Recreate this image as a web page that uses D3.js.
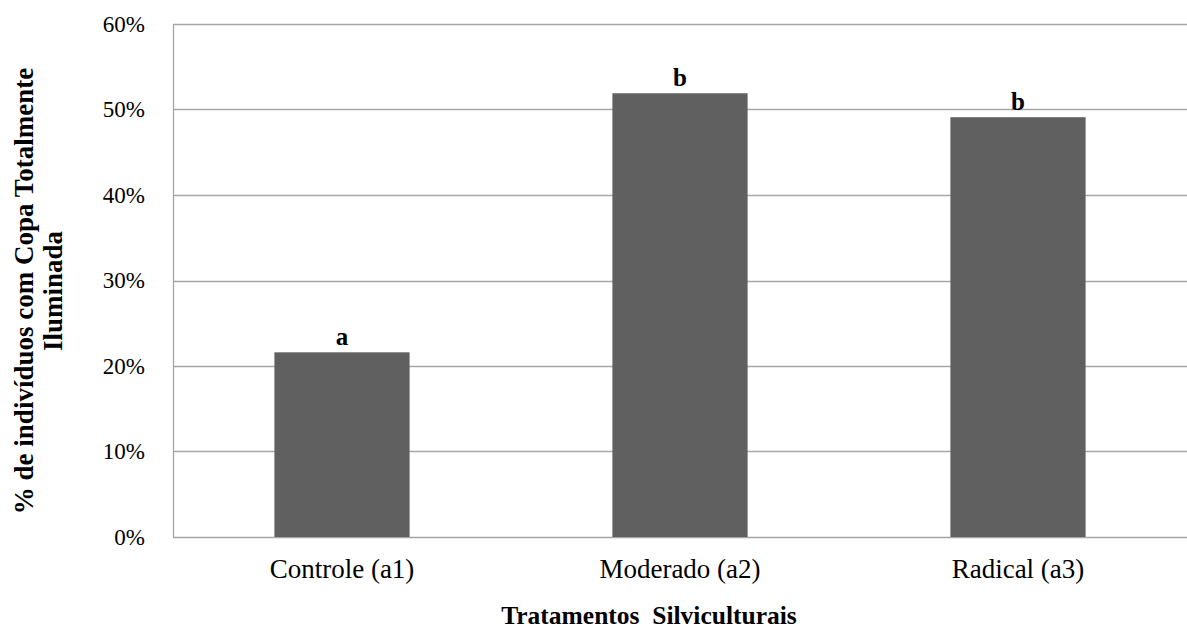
<!DOCTYPE html>
<html>
<head>
<meta charset="utf-8">
<script src="https://cdn.jsdelivr.net/npm/d3@7"></script>
<style>
  body { margin: 0; background: #fff; }
  text { font-family: "Liberation Serif", "Times New Roman", serif; fill: #000; }
</style>
</head>
<body>
<div id="container"></div>
<script>

// data
const categories = ["Controle (a1)", "Moderado (a2)", "Radical (a3)"];
const values = [0.216, 0.519, 0.491];
const letters = ["a", "b", "b"];
const yTicks = [0, 0.1, 0.2, 0.3, 0.4, 0.5, 0.6];

const width = 1187;
const height = 639;
const margin = { top: 24, right: 0, bottom: 102, left: 173 };

const svg = d3.create("svg")
    .attr("width", width)
    .attr("height", height);

const x = d3.scaleBand()
    .domain(categories)
    .range([margin.left, width - margin.right])
    .paddingInner(0.6)
    .paddingOuter(0.3);

const y = d3.scaleLinear()
    .domain([0, 0.6])
    .range([height - margin.bottom, margin.top]);

// gridlines
svg.append("g")
  .selectAll("line")
  .data(yTicks)
  .join("line")
    .attr("x1", margin.left)
    .attr("x2", width - margin.right)
    .attr("y1", d => Math.round(y(d)) + 0.5)
    .attr("y2", d => Math.round(y(d)) + 0.5)
    .attr("stroke", "#a6a6a6")
    .attr("stroke-width", 1.3);

// y axis line
svg.append("line")
  .attr("x1", margin.left + 0.5)
  .attr("x2", margin.left + 0.5)
  .attr("y1", y(0.6))
  .attr("y2", y(0))
  .attr("stroke", "#a6a6a6")
  .attr("stroke-width", 1.3);

// tick labels
const yAxis = svg.append("g")
  .attr("transform", `translate(${margin.left},0)`)
  .call(d3.axisLeft(y).tickValues(yTicks).tickFormat(d3.format(".0%")).tickSize(0).tickPadding(28))
  .attr("font-family", '"Liberation Serif", serif')
  .attr("font-size", 23);
yAxis.select(".domain").remove();
yAxis.selectAll("text").attr("fill", "#000");

// bars
svg.append("g")
  .selectAll("rect")
  .data(values)
  .join("rect")
    .attr("x", (d, i) => x(categories[i]))
    .attr("y", d => y(d))
    .attr("width", x.bandwidth())
    .attr("height", d => y(0) - y(d))
    .attr("fill", "#606060");

// significance letters
svg.append("g")
  .selectAll("text")
  .data(values)
  .join("text")
    .attr("x", (d, i) => x(categories[i]) + x.bandwidth() / 2)
    .attr("y", d => y(d) - 7)
    .attr("text-anchor", "middle")
    .style("font-size", "25px")
    .style("font-weight", "bold")
    .text((d, i) => letters[i]);

// category labels
const xAxis = svg.append("g")
  .attr("transform", `translate(0,${height - margin.bottom})`)
  .call(d3.axisBottom(x).tickSize(0))
  .attr("font-family", '"Liberation Serif", serif')
  .attr("font-size", 27);
xAxis.select(".domain").remove();
xAxis.selectAll("text")
  .attr("fill", "#000")
  .attr("dy", null)
  .attr("y", 41);

// axis titles
svg.append("text")
  .attr("x", 649)
  .attr("y", 624)
  .attr("text-anchor", "middle")
  .style("font-size", "25.5px")
  .style("font-weight", "bold")
  .style("white-space", "pre")
  .text("Tratamentos  Silviculturais");

const yTitle = svg.append("text")
  .attr("transform", "translate(0,291) rotate(-90)")
  .attr("text-anchor", "middle")
  .style("font-size", "27px")
  .style("font-weight", "bold");
yTitle.append("tspan").attr("x", 0).attr("y", 33).text("% de indivíduos com Copa Totalmente");
yTitle.append("tspan").attr("x", 0).attr("y", 62).text("Iluminada");

container.append(svg.node());

</script>
</body>
</html>
